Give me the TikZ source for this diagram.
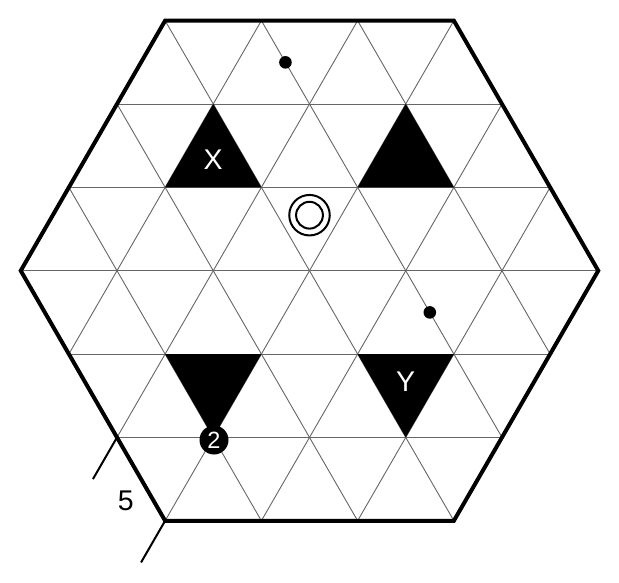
\documentclass[tikz,border=0pt]{standalone}
\usepackage{fontspec}
\setmainfont{Liberation Sans}
\begin{document}
\begin{tikzpicture}[x=1pt,y=-1pt,
  gridline/.style={draw=black!60, line width=0.9pt},
  border/.style={draw=black, line width=4pt, line join=miter},
  blacktri/.style={fill=black},
  tickline/.style={draw=black, line width=2pt},
  biglabel/.style={font=\fontsize{28.5}{30}\selectfont, inner sep=0pt},
  dot/.style={circle, fill=black, minimum size=12.6pt, inner sep=0pt},
  ringnode/.style={circle, draw=black, line width=2pt, inner sep=0pt}]
\useasboundingbox (0,0) rectangle (619,583);
% hexagon corners
\coordinate (TL) at (165.125,20.65);
\coordinate (TR) at (453.875,20.65);
\coordinate (R)  at (598.25,270.7);
\coordinate (BR) at (453.875,520.75);
\coordinate (BL) at (165.125,520.75);
\coordinate (L)  at (20.75,270.7);
% grid
\begin{scope}
  \clip (TL) -- (TR) -- (R) -- (BR) -- (BL) -- (L) -- cycle;
  \foreach \k in {-2,...,2}
    \draw[gridline] (0,{270.7+\k*83.35}) -- (619,{270.7+\k*83.35});
  \foreach \j in {-2,...,2} {
    \draw[gridline] ({309.5+\j*96.25-150},{270.7-259.81}) -- ({309.5+\j*96.25+150},{270.7+259.81});
    \draw[gridline] ({309.5+\j*96.25+150},{270.7-259.81}) -- ({309.5+\j*96.25-150},{270.7+259.81});
  }
\end{scope}
% black triangles
\fill[blacktri] (213.25,104.0) -- (165.125,187.35) -- (261.375,187.35) -- cycle;
\fill[blacktri] (405.75,104.0) -- (357.625,187.35) -- (453.875,187.35) -- cycle;
\fill[blacktri] (165.125,354.05) -- (261.375,354.05) -- (213.25,437.4) -- cycle;
\fill[blacktri] (357.625,354.05) -- (453.875,354.05) -- (405.75,437.4) -- cycle;
% border
\draw[border] (TL) -- (TR) -- (R) -- (BR) -- (BL) -- (L) -- cycle;
% edge ticks
\coordinate (E5) at (117.0,437.4);
\coordinate (T1) at (92.94,479.08);
\coordinate (T2) at (141.06,562.43);
\draw[tickline] (E5) -- (T1);
\draw[tickline] (BL) -- (T2);
\node[biglabel] (l5) at (125.8,500.6) {5};
% labels in triangles
\node[biglabel, text=white] (lx) at (213.25,159.6) {X};
\node[biglabel, text=white] (ly) at (405.75,381.8) {Y};
% dots
\node[dot] (d1) at (285.45,62.35) {};
\node[dot] (d2) at (429.8,312.4) {};
% double circle
\node[ringnode, minimum size=40.5pt] (ringout) at (309.5,215.2) {};
\node[ringnode, minimum size=26.8pt] (ringin) at (309.5,215.2) {};
% numbered disc
\node[circle, fill=black, minimum size=29pt, inner sep=0pt, text=white,
      font=\fontsize{23.5}{24}\selectfont] (n2) at (214,440) {2};
\end{tikzpicture}
\end{document}
